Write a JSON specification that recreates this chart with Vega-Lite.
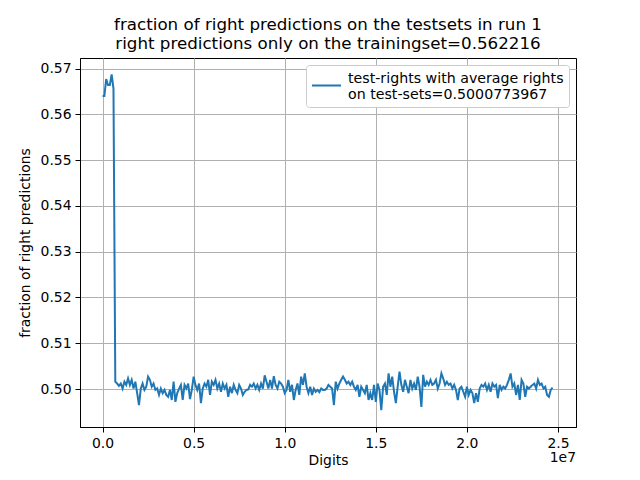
{
  "$schema": "https://vega.github.io/schema/vega-lite/v6.json",
  "width": 496,
  "height": 369,
  "autosize": {"type": "none"},
  "padding": {"left": 80, "top": 58, "right": 64, "bottom": 53},
  "background": "white",
  "config": {
    "font": "DejaVu Sans",
    "view": {"stroke": "black", "strokeWidth": 1},
    "axis": {
      "domainColor": "black", "domainWidth": 1,
      "tickColor": "black", "tickSize": 5, "tickWidth": 1,
      "labelFont": "DejaVu Sans", "labelFontSize": 13.9, "labelColor": "black",
      "titleFont": "DejaVu Sans", "titleFontSize": 13.9, "titleFontWeight": "normal", "titleColor": "black",
      "gridColor": "#b0b0b0", "gridWidth": 1, "gridOpacity": 1
    }
  },
  "title": {
    "text": ["fraction of right predictions on the testsets in run 1", "right predictions only on the trainingset=0.562216"],
    "fontSize": 16.7, "fontWeight": "normal", "font": "DejaVu Sans", "color": "black",
    "anchor": "middle", "offset": 5, "lineHeight": 19
  },
  "datasets": {
    "series": [
      {"x":0,"y":0.5640},{"x":100000,"y":0.5640},{"x":200000,"y":0.5677},{"x":300000,"y":0.5664},{"x":400000,"y":0.5664},
      {"x":500000,"y":0.5687},{"x":600000,"y":0.5656},{"x":700000,"y":0.5016},{"x":800000,"y":0.5012},{"x":900000,"y":0.5007},
      {"x":1000000,"y":0.5012},{"x":1100000,"y":0.5001},{"x":1200000,"y":0.5016},{"x":1300000,"y":0.5009},{"x":1400000,"y":0.5023},
      {"x":1500000,"y":0.5009},{"x":1600000,"y":0.5020},{"x":1700000,"y":0.5001},{"x":1800000,"y":0.5016},{"x":1900000,"y":0.4991},
      {"x":2000000,"y":0.4965},{"x":2100000,"y":0.5001},{"x":2200000,"y":0.5012},{"x":2300000,"y":0.4998},{"x":2400000,"y":0.5005},
      {"x":2500000,"y":0.5027},{"x":2600000,"y":0.5020},{"x":2700000,"y":0.5005},{"x":2800000,"y":0.5012},{"x":2900000,"y":0.4998},
      {"x":3000000,"y":0.5001},{"x":3100000,"y":0.4987},{"x":3200000,"y":0.5001},{"x":3300000,"y":0.4991},{"x":3400000,"y":0.4998},
      {"x":3500000,"y":0.4987},{"x":3600000,"y":0.4983},{"x":3700000,"y":0.4998},{"x":3800000,"y":0.4976},{"x":3900000,"y":0.5016},
      {"x":4000000,"y":0.4972},{"x":4100000,"y":0.4991},{"x":4200000,"y":0.5001},{"x":4300000,"y":0.5009},{"x":4400000,"y":0.4976},
      {"x":4500000,"y":0.5009},{"x":4600000,"y":0.5001},{"x":4700000,"y":0.5012},{"x":4800000,"y":0.4978},{"x":4900000,"y":0.4998},
      {"x":5000000,"y":0.5027},{"x":5100000,"y":0.5009},{"x":5200000,"y":0.4998},{"x":5300000,"y":0.5012},{"x":5400000,"y":0.4969},
      {"x":5500000,"y":0.5001},{"x":5600000,"y":0.5012},{"x":5700000,"y":0.5005},{"x":5800000,"y":0.5020},{"x":5900000,"y":0.4987},
      {"x":6000000,"y":0.5016},{"x":6100000,"y":0.5009},{"x":6200000,"y":0.5020},{"x":6300000,"y":0.5001},{"x":6400000,"y":0.5012},
      {"x":6500000,"y":0.4994},{"x":6600000,"y":0.5012},{"x":6700000,"y":0.5001},{"x":6800000,"y":0.5009},{"x":6900000,"y":0.4983},
      {"x":7000000,"y":0.5005},{"x":7100000,"y":0.4991},{"x":7200000,"y":0.5009},{"x":7300000,"y":0.4998},{"x":7400000,"y":0.4991},
      {"x":7500000,"y":0.5009},{"x":7600000,"y":0.5001},{"x":7700000,"y":0.4987},{"x":7800000,"y":0.4994},{"x":7900000,"y":0.4998},
      {"x":8000000,"y":0.4999},{"x":8100000,"y":0.5009},{"x":8200000,"y":0.5005},{"x":8300000,"y":0.5012},{"x":8400000,"y":0.5001},
      {"x":8500000,"y":0.5009},{"x":8600000,"y":0.4998},{"x":8700000,"y":0.5012},{"x":8800000,"y":0.5001},{"x":8900000,"y":0.5030},
      {"x":9000000,"y":0.5016},{"x":9100000,"y":0.5001},{"x":9200000,"y":0.5020},{"x":9300000,"y":0.5001},{"x":9400000,"y":0.5028},
      {"x":9500000,"y":0.5009},{"x":9600000,"y":0.5001},{"x":9700000,"y":0.5016},{"x":9800000,"y":0.5012},{"x":9900000,"y":0.5005},
      {"x":10000000,"y":0.4991},{"x":10100000,"y":0.4998},{"x":10200000,"y":0.5020},{"x":10300000,"y":0.4994},{"x":10400000,"y":0.5009},
      {"x":10500000,"y":0.4976},{"x":10600000,"y":0.4998},{"x":10700000,"y":0.5012},{"x":10800000,"y":0.4987},{"x":10900000,"y":0.5027},
      {"x":11000000,"y":0.5009},{"x":11100000,"y":0.5034},{"x":11200000,"y":0.5005},{"x":11300000,"y":0.4991},{"x":11400000,"y":0.5005},
      {"x":11500000,"y":0.4987},{"x":11600000,"y":0.5001},{"x":11700000,"y":0.4994},{"x":11800000,"y":0.4998},{"x":11900000,"y":0.4993},
      {"x":12000000,"y":0.5001},{"x":12100000,"y":0.4998},{"x":12200000,"y":0.4998},{"x":12300000,"y":0.5001},{"x":12400000,"y":0.5009},
      {"x":12500000,"y":0.5005},{"x":12600000,"y":0.5001},{"x":12700000,"y":0.4965},{"x":12800000,"y":0.5016},{"x":12900000,"y":0.5001},
      {"x":13000000,"y":0.5012},{"x":13100000,"y":0.5020},{"x":13200000,"y":0.5027},{"x":13300000,"y":0.5020},{"x":13400000,"y":0.5012},
      {"x":13500000,"y":0.5016},{"x":13600000,"y":0.5009},{"x":13700000,"y":0.5016},{"x":13800000,"y":0.5005},{"x":13900000,"y":0.4998},
      {"x":14000000,"y":0.5009},{"x":14100000,"y":0.4983},{"x":14200000,"y":0.5005},{"x":14300000,"y":0.4998},{"x":14400000,"y":0.4991},
      {"x":14500000,"y":0.5009},{"x":14600000,"y":0.4976},{"x":14700000,"y":0.4991},{"x":14800000,"y":0.4976},{"x":14900000,"y":0.5009},
      {"x":15000000,"y":0.4972},{"x":15100000,"y":0.5012},{"x":15200000,"y":0.4998},{"x":15300000,"y":0.4954},{"x":15400000,"y":0.5005},
      {"x":15500000,"y":0.5012},{"x":15600000,"y":0.4987},{"x":15700000,"y":0.5034},{"x":15800000,"y":0.5005},{"x":15900000,"y":0.5027},
      {"x":16000000,"y":0.4994},{"x":16100000,"y":0.4969},{"x":16200000,"y":0.5005},{"x":16300000,"y":0.5038},{"x":16400000,"y":0.5009},
      {"x":16500000,"y":0.4994},{"x":16600000,"y":0.5020},{"x":16700000,"y":0.5005},{"x":16800000,"y":0.4991},{"x":16900000,"y":0.5020},
      {"x":17000000,"y":0.5001},{"x":17100000,"y":0.5012},{"x":17200000,"y":0.4998},{"x":17300000,"y":0.5027},{"x":17400000,"y":0.5005},
      {"x":17500000,"y":0.4961},{"x":17600000,"y":0.5031},{"x":17700000,"y":0.5005},{"x":17800000,"y":0.5016},{"x":17900000,"y":0.5009},
      {"x":18000000,"y":0.5020},{"x":18100000,"y":0.5009},{"x":18200000,"y":0.5012},{"x":18300000,"y":0.5020},{"x":18400000,"y":0.5001},
      {"x":18500000,"y":0.5012},{"x":18600000,"y":0.5034},{"x":18700000,"y":0.5023},{"x":18800000,"y":0.5009},{"x":18900000,"y":0.5016},
      {"x":19000000,"y":0.5009},{"x":19100000,"y":0.5012},{"x":19200000,"y":0.5001},{"x":19300000,"y":0.5009},{"x":19400000,"y":0.4998},
      {"x":19500000,"y":0.4976},{"x":19600000,"y":0.5001},{"x":19700000,"y":0.5005},{"x":19800000,"y":0.4994},{"x":19900000,"y":0.4983},
      {"x":20000000,"y":0.5005},{"x":20100000,"y":0.4987},{"x":20200000,"y":0.4998},{"x":20300000,"y":0.4991},{"x":20400000,"y":0.4969},
      {"x":20500000,"y":0.4991},{"x":20600000,"y":0.4972},{"x":20700000,"y":0.5001},{"x":20800000,"y":0.5009},{"x":20900000,"y":0.5005},
      {"x":21000000,"y":0.5012},{"x":21100000,"y":0.4998},{"x":21200000,"y":0.5009},{"x":21300000,"y":0.4994},{"x":21400000,"y":0.5012},
      {"x":21500000,"y":0.5005},{"x":21600000,"y":0.5009},{"x":21700000,"y":0.4980},{"x":21800000,"y":0.5009},{"x":21900000,"y":0.4998},
      {"x":22000000,"y":0.5005},{"x":22100000,"y":0.5001},{"x":22200000,"y":0.5009},{"x":22300000,"y":0.5020},{"x":22400000,"y":0.5034},
      {"x":22500000,"y":0.5005},{"x":22600000,"y":0.5012},{"x":22700000,"y":0.4987},{"x":22800000,"y":0.5009},{"x":22900000,"y":0.4976},
      {"x":23000000,"y":0.5020},{"x":23100000,"y":0.5012},{"x":23200000,"y":0.4983},{"x":23300000,"y":0.5005},{"x":23400000,"y":0.5001},
      {"x":23500000,"y":0.5005},{"x":23600000,"y":0.5009},{"x":23700000,"y":0.5012},{"x":23800000,"y":0.5001},{"x":23900000,"y":0.5020},
      {"x":24000000,"y":0.5009},{"x":24100000,"y":0.5012},{"x":24200000,"y":0.5001},{"x":24300000,"y":0.5005},{"x":24400000,"y":0.4987},
      {"x":24500000,"y":0.4983},{"x":24600000,"y":0.4998},{"x":24700000,"y":0.5003}
    ],
    "offset": [{"label": "1e7", "x": 25987500, "y": 0.4849}]
  },
  "layer": [
    {
      "data": {"name": "series"},
      "mark": {"type": "line", "strokeWidth": 2, "interpolate": "linear"},
      "encoding": {
        "x": {
          "field": "x", "type": "quantitative",
          "scale": {"domain": [-1237500, 25987500], "nice": false, "zero": false},
          "axis": {
            "values": [0, 5000000, 10000000, 15000000, 20000000, 25000000],
            "labelExpr": "format(datum.value / 10000000, '.1f')",
            "title": "Digits", "titlePadding": 4, "labelPadding": 4, "labelFlush": false
          }
        },
        "y": {
          "field": "y", "type": "quantitative",
          "scale": {"domain": [0.4917, 0.5723], "nice": false, "zero": false},
          "axis": {
            "values": [0.50, 0.51, 0.52, 0.53, 0.54, 0.55, 0.56, 0.57],
            "format": ".2f",
            "title": "fraction of right predictions", "titlePadding": 8, "labelPadding": 4
          }
        },
        "color": {
          "datum": "test-rights with average rights on test-sets=0.5000773967",
          "type": "nominal",
          "scale": {"range": ["#1f77b4"]},
          "legend": {
            "title": null,
            "orient": "top-right",
            "offset": 7,
            "padding": 5,
            "strokeColor": "#cccccc",
            "fillColor": "white",
            "cornerRadius": 3,
            "symbolType": "stroke",
            "symbolSize": 841,
            "symbolStrokeWidth": 2,
            "symbolStrokeColor": "#1f77b4",
            "labelFontSize": 14.2,
            "labelFont": "DejaVu Sans",
            "labelColor": "black",
            "labelBaseline": "bottom",
            "labelOffset": 6,
            "labelLimit": 400,
            "labelExpr": "['test-rights with average rights', 'on test-sets=0.5000773967']"
          }
        }
      }
    },
    {
      "data": {"name": "offset"},
      "mark": {"type": "text", "align": "right", "baseline": "middle", "fontSize": 13.9, "font": "DejaVu Sans", "color": "black"},
      "encoding": {
        "x": {"field": "x", "type": "quantitative"},
        "y": {"field": "y", "type": "quantitative"},
        "text": {"field": "label"}
      }
    }
  ]
}
